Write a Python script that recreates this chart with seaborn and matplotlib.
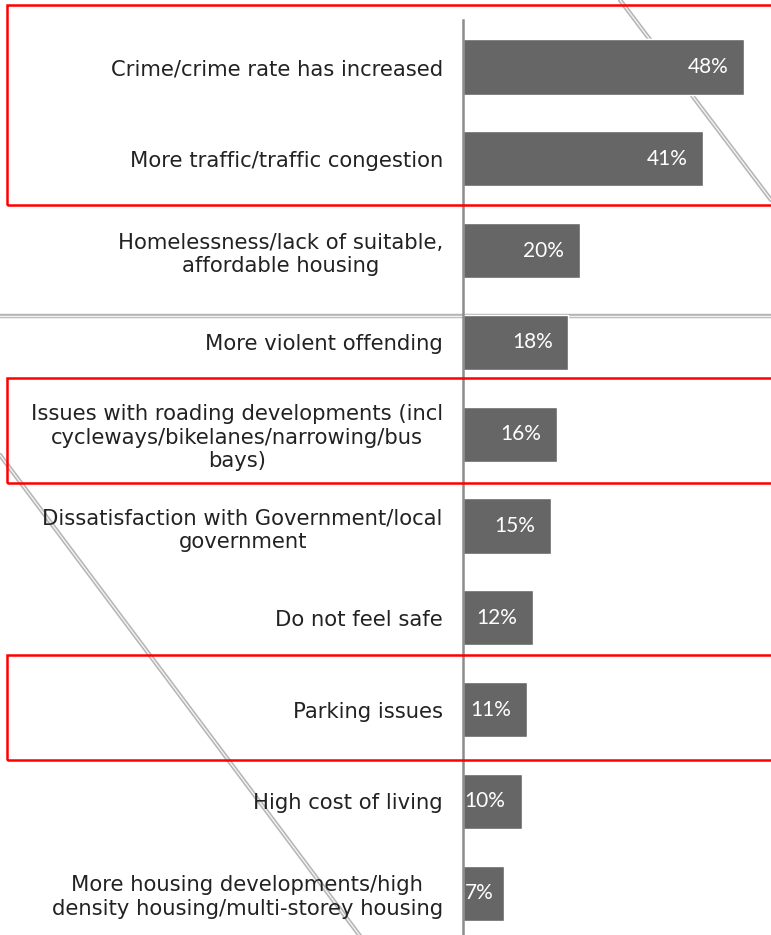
import matplotlib
matplotlib.use("Agg")
import matplotlib.pyplot as plt
import seaborn as sns
import pandas as pd
from matplotlib.lines import Line2D
from matplotlib.patches import Rectangle

categories = [
    "Crime/crime rate has increased",
    "More traffic/traffic congestion",
    "Homelessness/lack of suitable,\naffordable housing",
    "More violent offending",
    "Issues with roading developments (incl\ncycleways/bikelanes/narrowing/bus\nbays)",
    "Dissatisfaction with Government/local\ngovernment",
    "Do not feel safe",
    "Parking issues",
    "High cost of living",
    "More housing developments/high\ndensity housing/multi-storey housing",
]
values = [48, 41, 20, 18, 16, 15, 12, 11, 10, 7]
labels = ["48%", "41%", "20%", "18%", "16%", "15%", "12%", "11%", "10%", "7%"]

df = pd.DataFrame({"Reason": categories, "Percent": values})

sns.set_style("white")
plt.rcParams["font.family"] = ["DejaVu Sans"]

W, H = 771, 935
fig = plt.figure(figsize=(W / 100, H / 100), dpi=100)
ax = fig.add_axes([463 / W, 0, (W - 463) / W, (H - 20) / H])

sns.barplot(data=df, x="Percent", y="Reason", orient="h", color="#666666",
            saturation=1, width=0.6, ax=ax, zorder=3)

ax.set_xlim(0, (W - 463) / 5.854)
ax.set_ylim(9.455, -0.512)
ax.set_xlabel("")
ax.set_ylabel("")
ax.set_xticks([])
for s in ["top", "right", "bottom"]:
    ax.spines[s].set_visible(False)
ax.spines["left"].set_color("#8c8c8c")
ax.spines["left"].set_linewidth(1.8)
ax.spines["left"].set_zorder(4)
ax.tick_params(axis="y", length=0, pad=14.5, labelsize=15.2, labelcolor="#222222")
for t in ax.get_yticklabels():
    t.set_multialignment("center")
    t.set_linespacing(1.22)

# value labels inside the bars
for i, (v, lab) in enumerate(zip(values, labels)):
    if v <= 10:
        ax.text(0.3, i, lab, color="white", ha="left", va="center", fontsize=15,
                family="Lato", zorder=5)
    else:
        ax.text(v - 2.7, i, lab, color="white", ha="right", va="center", fontsize=15,
                family="Lato", zorder=5)

# background decorations (double grey lines)
def double_line(x0, y0, x1, y1):
    xs = [x0 / W, x1 / W]
    ys = [1 - y0 / H, 1 - y1 / H]
    fig.add_artist(Line2D(xs, ys, transform=fig.transFigure, color="#b5b5b5", lw=3.2, zorder=0))
    fig.add_artist(Line2D(xs, ys, transform=fig.transFigure, color="#f2f2f2", lw=1.0, zorder=0.5))

ax.set_zorder(1)
ax.patch.set_alpha(0)
double_line(0, 316, W, 316)
double_line(620, 0, 771, 200)
double_line(0, 455, 360, 936)

# red highlight boxes
for y0, y1 in [(5, 205), (378, 483), (655, 760)]:
    fig.add_artist(Rectangle((7 / W, 1 - y1 / H), 1, (y1 - y0) / H,
                             transform=fig.transFigure, fill=False,
                             edgecolor="#ff0000", lw=1.8, zorder=10))

plt.savefig("out.png", dpi=100)
